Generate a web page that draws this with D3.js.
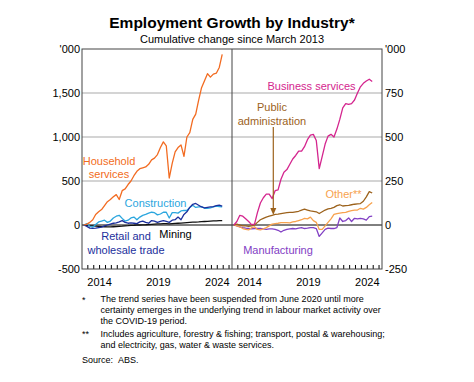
<!DOCTYPE html>
<html>
<head>
<meta charset="utf-8">
<script src="https://cdn.jsdelivr.net/npm/d3@7"></script>
<style>
  html, body { margin: 0; padding: 0; background: #fff; }
  svg { display: block; font-family: "Liberation Sans", Arial, sans-serif; }
</style>
</head>
<body>
<svg id="chart" width="474" height="382"></svg>
<script>
// ---------- DATA ('000, cumulative change since March 2013; quarterly) ----------
const dates = [
  "2013-03","2013-06","2013-09","2013-12","2014-03","2014-06","2014-09","2014-12",
  "2015-03","2015-06","2015-09","2015-12","2016-03","2016-06","2016-09","2016-12",
  "2017-03","2017-06","2017-09","2017-12","2018-03","2018-06","2018-09","2018-12",
  "2019-03","2019-06","2019-09","2019-12","2020-03","2020-06","2020-09","2020-12",
  "2021-03","2021-06","2021-09","2021-12","2022-03","2022-06","2022-09","2022-12",
  "2023-03","2023-06","2023-09","2023-12","2024-03","2024-06","2024-09","2024-12"
];
// Left panel
const household = [0,10,30,60,120,150,175,220,265,290,320,345,290,390,410,460,
  500,560,610,640,650,660,690,740,760,800,880,945,900,534,700,830,
  880,910,780,1000,1050,1200,1260,1420,1560,1640,1720,1680,1715,1725,1790,1940];
const construction = [0,15,-15,-25,5,35,45,55,30,45,80,100,110,75,45,55,
  80,90,60,90,110,120,135,145,140,115,125,145,145,80,140,140,
  135,160,165,165,200,225,200,205,210,190,190,195,205,215,210,205];
const retail = [0,-15,-35,-38,-35,-30,-25,-10,0,10,20,25,35,50,30,20,
  25,20,15,35,45,30,20,50,45,30,40,50,40,30,55,60,
  90,60,120,150,200,235,245,225,205,195,200,205,210,220,225,215];
const mining = [0,-5,-8,-10,-12,-15,-18,-20,-22,-22,-20,-18,-15,-13,-10,-8,
  -5,-3,0,0,2,3,5,8,10,12,12,15,15,12,15,18,
  20,22,25,28,30,32,33,35,38,40,42,44,46,48,50,50];
// Right panel
const business = [0,20,55,50,35,20,2,5,70,125,155,175,175,150,195,200,
  260,300,315,345,375,395,420,420,445,485,511,515,480,320,390,460,
  505,515,500,545,600,665,690,685,690,710,750,785,805,818,828,815];
const publicAdmin = [0,5,0,-5,-5,-8,-5,0,15,30,38,45,50,55,60,62,
  65,68,70,72,72,75,78,85,90,85,80,78,75,65,75,85,
  92,95,100,110,115,108,110,112,115,118,120,122,135,160,190,182];
const other = [0,-5,-10,-20,-25,-28,-15,-10,-25,-28,-22,-15,-5,5,8,10,
  13,13,13,12,18,20,25,30,38,35,45,25,15,-25,-25,-5,
  15,35,60,65,68,70,72,78,82,85,85,95,90,100,115,128];
const manufacturing = [0,-5,-10,-15,-18,-20,-22,-20,-20,-20,-22,-25,-22,-22,-25,-30,
  -40,-30,-25,-22,-20,-22,-18,-15,-20,-18,-15,-15,-20,-65,-45,-25,
  -18,-20,-20,-15,40,20,25,40,20,38,35,38,35,28,48,50];

const yTicksLeft = [-500, 0, 500, 1000, 1500];
const yTicksRight = [-250, 0, 250, 500, 750];
const xTickLabels = ["2014", "2019", "2024"];

const colors = {
  household: "#f26b21",
  construction: "#2ba6de",
  retail: "#1c2f9c",
  mining: "#111111",
  business: "#d4258e",
  publicAdmin: "#9c621c",
  other: "#f7a24e",
  manufacturing: "#8240c4"
};

// ---------- LAYOUT ----------
const svg = d3.select("#chart");
const plotTop = 49, plotBottom = 269;
const leftX = [82, 232], rightX = [232, 382];
const parse = d3.timeParse("%Y-%m");
const dts = dates.map(parse);
const domainX = [new Date(2013, 0, 1), new Date(2025, 9, 1)];

const xL = d3.scaleTime().domain(domainX).range(leftX);
const xR = d3.scaleTime().domain(domainX).range(rightX);
const yL = d3.scaleLinear().domain([-500, 2000]).range([plotBottom, plotTop]);
const yR = d3.scaleLinear().domain([-250, 1000]).range([plotBottom, plotTop]);
const fmt = d => d3.format(",")(d).replace("\u2212", "-");

// Title
svg.append("text").attr("x", 232).attr("y", 28).attr("text-anchor", "middle")
  .attr("font-size", "15.5px").attr("font-weight", "bold").attr("fill", "#000")
  .text("Employment Growth by Industry*");
svg.append("text").attr("x", 232).attr("y", 43).attr("text-anchor", "middle")
  .attr("font-size", "11px").attr("fill", "#000")
  .text("Cumulative change since March 2013");

// Gridlines (shared)
yTicksLeft.filter(d => d !== 0 && d !== -500).forEach(d => {
  svg.append("line").attr("x1", leftX[0]).attr("x2", rightX[1])
    .attr("y1", yL(d)).attr("y2", yL(d))
    .attr("stroke", "#c6c6c6").attr("stroke-width", 1.3);
});

// Left y labels
const yAxisL = d3.axisLeft(yL).tickValues(yTicksLeft).tickSize(0).tickPadding(2)
  .tickFormat(fmt);
const gL = svg.append("g").attr("transform", `translate(${leftX[0]},0)`).call(yAxisL);
gL.select(".domain").remove();
gL.selectAll("text").attr("font-size", "11px").attr("font-family", "Liberation Sans, Arial, sans-serif").attr("fill", "#000");
svg.append("text").attr("x", 80).attr("y", yL(2000) + 4).attr("text-anchor", "end")
  .attr("font-size", "11px").text("'000");

const yAxisR = d3.axisRight(yR).tickValues(yTicksRight).tickSize(0).tickPadding(3)
  .tickFormat(fmt);
const gR = svg.append("g").attr("transform", `translate(${rightX[1]},0)`).call(yAxisR);
gR.select(".domain").remove();
gR.selectAll("text").attr("font-size", "11px").attr("font-family", "Liberation Sans, Arial, sans-serif").attr("fill", "#000");
svg.append("text").attr("x", 385).attr("y", yR(1000) + 4).attr("text-anchor", "start")
  .attr("font-size", "11px").text("'000");

// X axes (ticks pointing inward, labels at mid-year)
function xAxis(x) {
  const tickDates = d3.timeMonth.every(6).range(new Date(2013, 6, 1), new Date(2025, 7, 1));
  const g = svg.append("g");
  g.selectAll("line.tk").data(tickDates).join("line")
    .attr("x1", d => x(d)).attr("x2", d => x(d))
    .attr("y1", plotBottom).attr("y2", plotBottom - 4)
    .attr("stroke", "#000").attr("stroke-width", 1);
  g.selectAll("text").data(xTickLabels).join("text")
    .attr("x", d => x(new Date(+d, 6, 1)))
    .attr("y", 286).attr("text-anchor", "middle")
    .attr("font-size", "11px").text(d => d);
}
xAxis(xL);
xAxis(xR);

// Zero line
svg.append("line").attr("x1", leftX[0]).attr("x2", rightX[1])
  .attr("y1", yL(0)).attr("y2", yL(0)).attr("stroke", "#000").attr("stroke-width", 1);

// Lines
function drawLine(x, y, vals, color) {
  const line = d3.line().x((d, i) => x(dts[i])).y(d => y(d));
  svg.append("path").datum(vals).attr("d", line)
    .attr("fill", "none").attr("stroke", color).attr("stroke-width", 1.3)
    .attr("stroke-linejoin", "round");
}
drawLine(xL, yL, mining, colors.mining);
drawLine(xL, yL, construction, colors.construction);
drawLine(xL, yL, retail, colors.retail);
drawLine(xL, yL, household, colors.household);

drawLine(xR, yR, manufacturing, colors.manufacturing);
drawLine(xR, yR, other, colors.other);
drawLine(xR, yR, publicAdmin, colors.publicAdmin);
drawLine(xR, yR, business, colors.business);

// Frame
svg.append("rect").attr("x", leftX[0]).attr("y", plotTop)
  .attr("width", rightX[1] - leftX[0]).attr("height", plotBottom - plotTop)
  .attr("fill", "none").attr("stroke", "#444").attr("stroke-width", 1);
svg.append("line").attr("x1", 232).attr("x2", 232).attr("y1", plotTop).attr("y2", plotBottom)
  .attr("stroke", "#444").attr("stroke-width", 1);

// Series labels
function label(lines, x, y, color, anchor = "middle") {
  const t = svg.append("text").attr("x", x).attr("y", y).attr("text-anchor", anchor)
    .attr("font-size", "11px").attr("fill", color);
  lines.forEach((l, i) => t.append("tspan").attr("x", x).attr("dy", i === 0 ? 0 : 13.5).text(l));
}
label(["Household", "services"], 109, 164.5, colors.household);
label(["Construction"], 155.5, 207, colors.construction);
label(["Retail and", "wholesale trade"], 126, 240, colors.retail);
label(["Mining"], 175.5, 238, "#000");

label(["Business services"], 311.5, 89.5, colors.business);
label(["Public", "administration"], 272, 111, colors.publicAdmin);
label(["Other**"], 343.5, 198, colors.other);
label(["Manufacturing"], 278, 254, colors.manufacturing);

// Arrow for public administration
svg.append("line").attr("x1", 273.3).attr("x2", 273.3).attr("y1", 127).attr("y2", 209)
  .attr("stroke", colors.publicAdmin).attr("stroke-width", 1.2);
svg.append("path").attr("d", "M270.3,208 L276.3,208 L273.3,215 Z").attr("fill", colors.publicAdmin);

// Footnotes
const fn = svg.append("g").attr("font-size", "9px").attr("fill", "#000");
fn.append("text").attr("x", 82).attr("y", 303).text("*");
[["The trend series have been suspended from June 2020 until more", 302],
 ["certainty emerges in the underlying trend in labour market activity over", 312.5],
 ["the COVID-19 period.", 323.5]].forEach(([t, y]) => fn.append("text").attr("x", 100.5).attr("y", y).text(t));
fn.append("text").attr("x", 82).attr("y", 337).text("**");
[["Includes agriculture, forestry & fishing; transport, postal & warehousing;", 336.5],
 ["and electricity, gas, water & waste services.", 347.5]].forEach(([t, y]) => fn.append("text").attr("x", 100.5).attr("y", y).text(t));
fn.append("text").attr("x", 82).attr("y", 362.5).text("Source:");
fn.append("text").attr("x", 118).attr("y", 362.5).text("ABS.");
</script>
</body>
</html>
